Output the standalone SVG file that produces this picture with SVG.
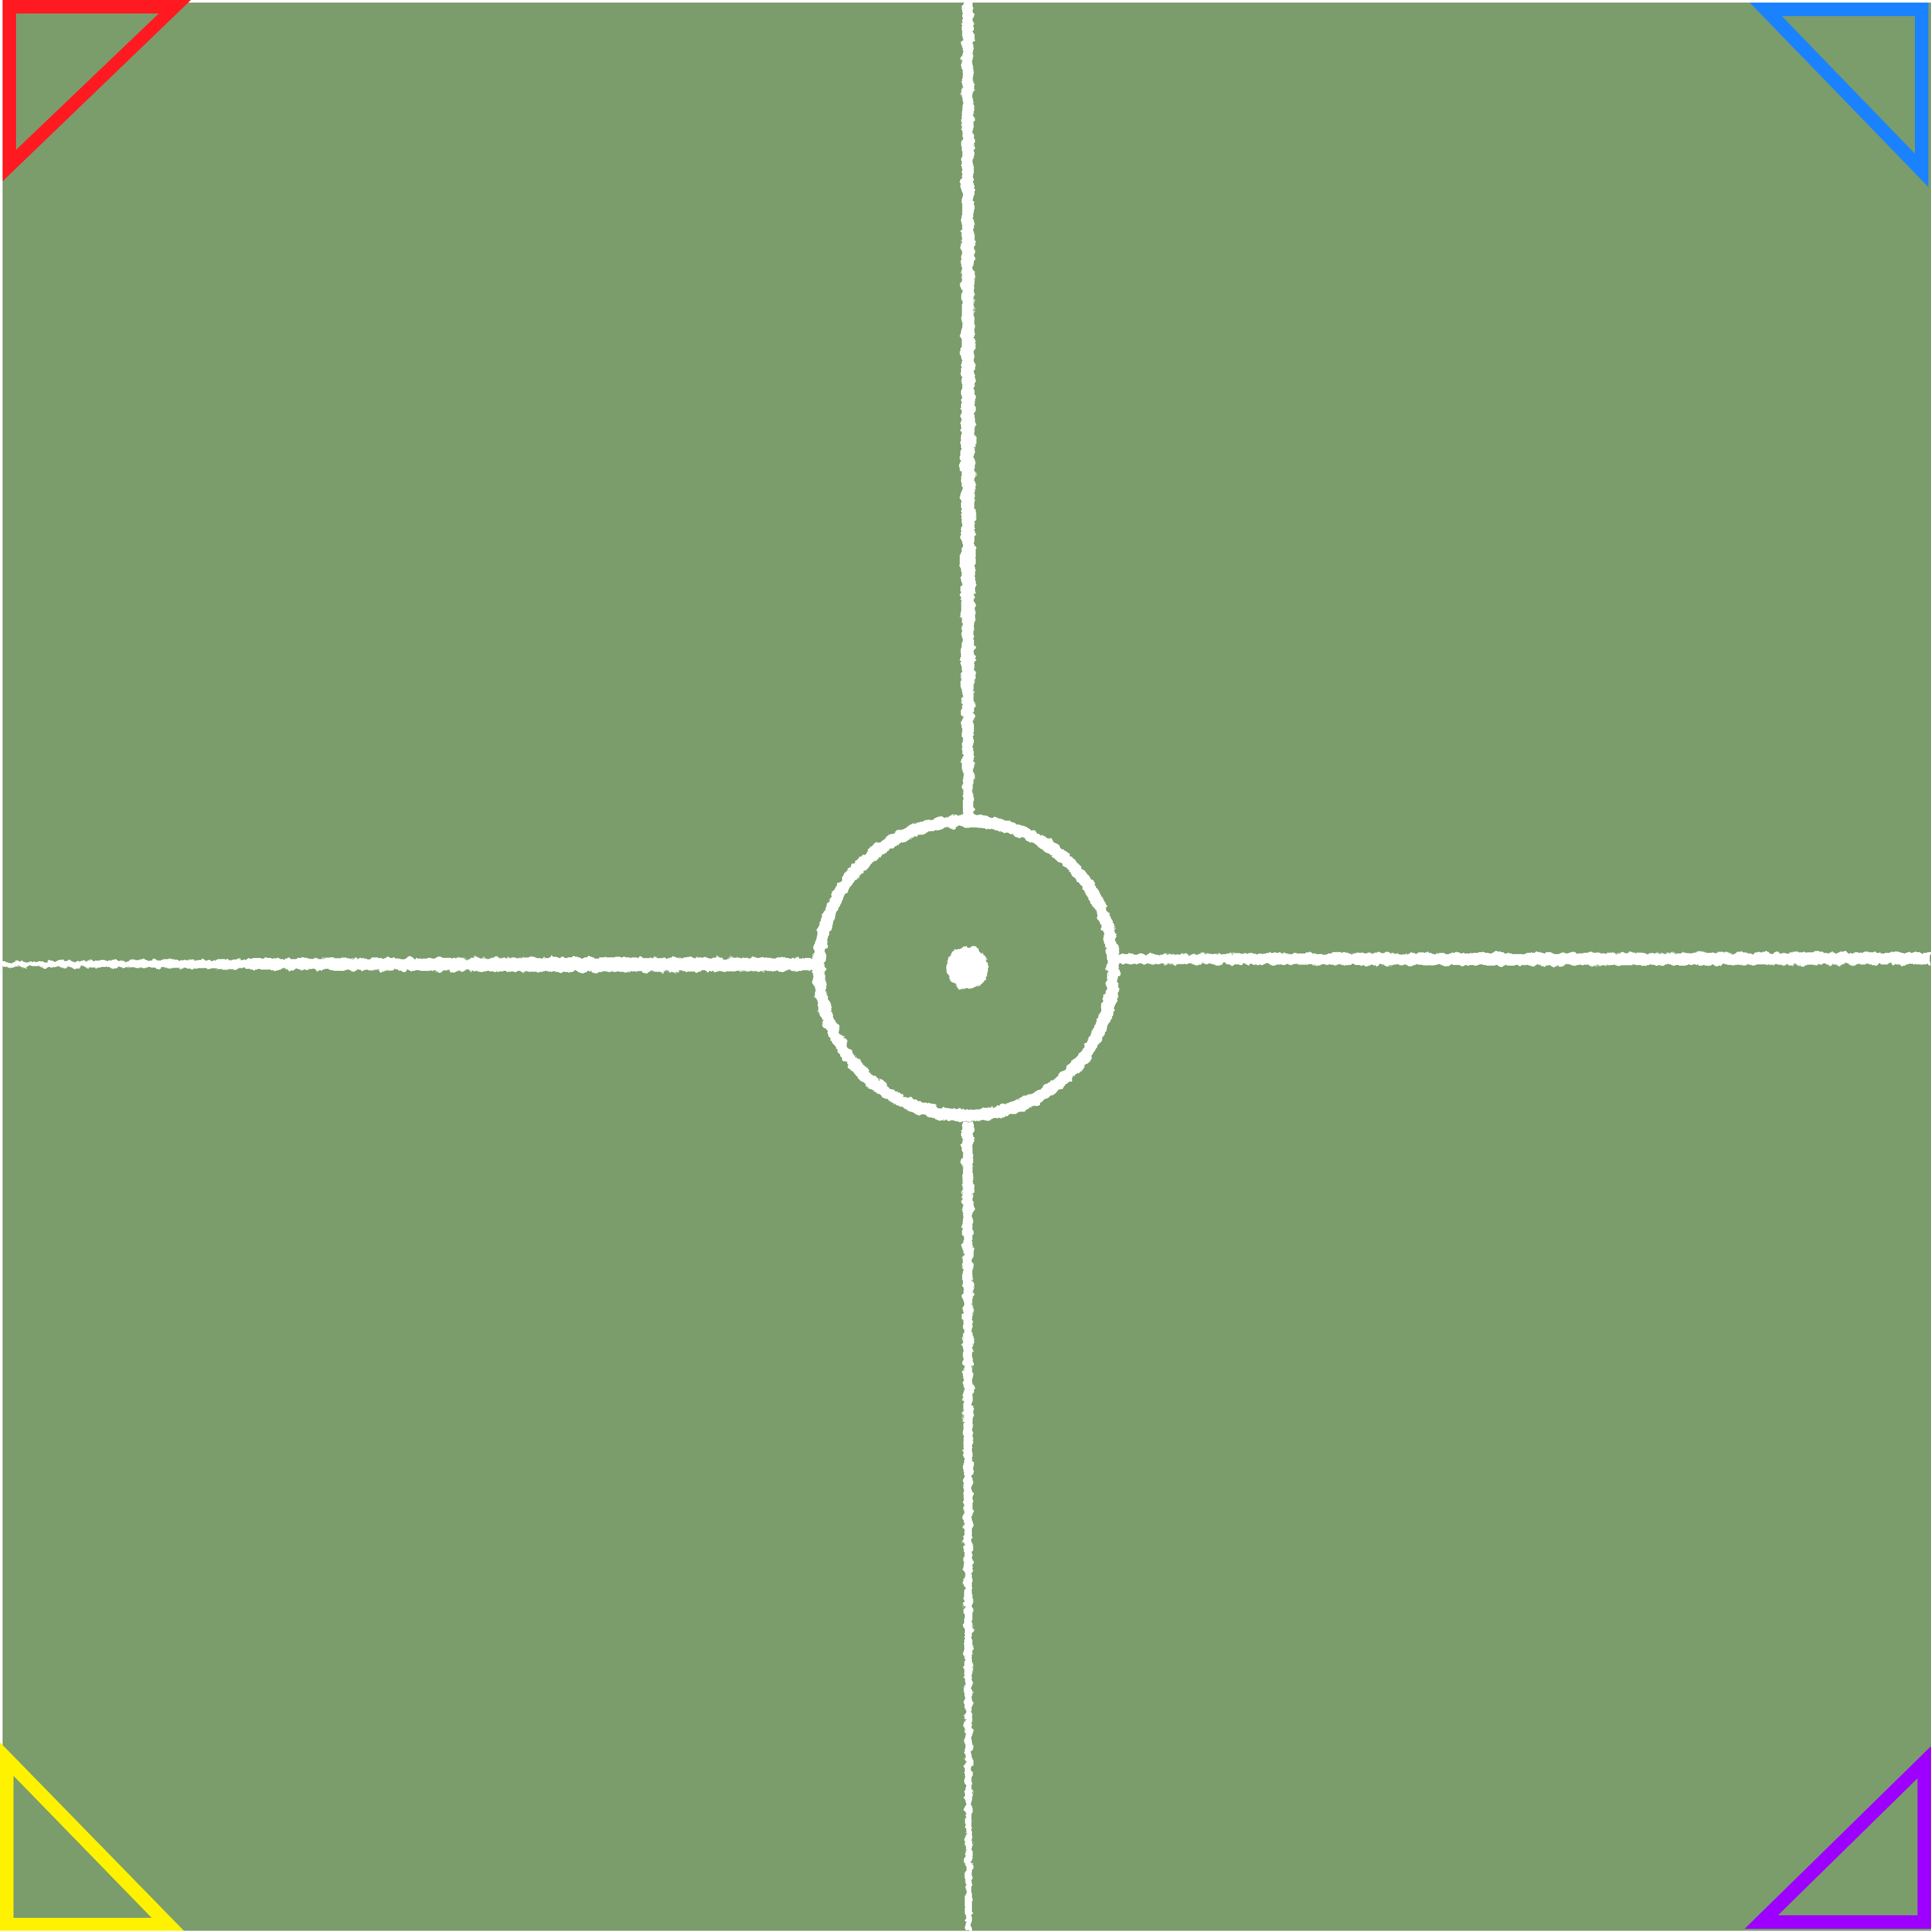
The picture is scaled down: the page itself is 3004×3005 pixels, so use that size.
<svg xmlns="http://www.w3.org/2000/svg" width="3004" height="3005" viewBox="0 0 3004 3005">
  <defs>
    <filter id="chalk" filterUnits="userSpaceOnUse" x="0" y="0" width="3004" height="3005">
      <feTurbulence type="fractalNoise" baseFrequency="0.09" numOctaves="3" seed="7" result="n"/>
      <feDisplacementMap in="SourceGraphic" in2="n" scale="9" xChannelSelector="R" yChannelSelector="G"/>
    </filter>
    <style>
      .chalk { fill: #ffffff; stroke: none; }
      .ring { fill: none; stroke: #ffffff; stroke-width: 19; }
    </style>
  </defs>
  <rect x="0" y="0" width="3004" height="3005" fill="#ffffff"/>
  <rect id="field" x="4" y="4" width="3000" height="2999" fill="#7b9d6b"/>

  <g id="chalk-lines" filter="url(#chalk)">
    <polygon class="chalk" points="4,1496 400,1491 900,1489 1268,1490 1268,1510 900,1512 400,1508 4,1503"/>
    <polygon class="chalk" points="1738,1484 2300,1482 3004,1481 3004,1500 2300,1502 1738,1499"/>
    <polygon class="chalk" points="1497,4 1514,4 1516,600 1517,900 1514,1268 1498,1268 1495,900 1495,600"/>
    <polygon class="chalk" points="1497,1745 1514,1745 1513,2300 1512,3003 1502,3003 1499,2300"/>
    <circle class="ring" cx="1503" cy="1506" r="229"/>
    <circle class="chalk" cx="1505" cy="1505" r="33"/>
  </g>

  <g id="corner-red">
    <path fill="#ff1a22" fill-rule="evenodd" d="M4,0 L297,0 L4,282 Z M25,21 L25,233 L247,21 Z"/>
  </g>
  <g id="corner-blue">
    <path fill="#1a82ff" fill-rule="evenodd" d="M2722,4 L3000,4 L3000,291 Z M2772,25 L2979,25 L2979,239 Z"/>
  </g>
  <g id="corner-yellow">
    <path fill="#fff200" fill-rule="evenodd" d="M0,2710 L286,3003 L0,3003 Z M21,2762 L21,2983 L236,2983 Z"/>
  </g>
  <g id="corner-purple">
    <path fill="#9d00ff" fill-rule="evenodd" d="M3004,2716 L3004,3000 L2714,3000 Z M2983,2766 L2983,2979 L2766,2979 Z"/>
  </g>
</svg>
